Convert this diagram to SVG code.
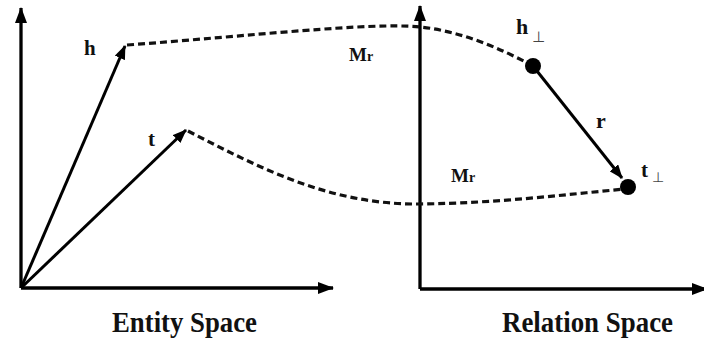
<svg xmlns="http://www.w3.org/2000/svg" width="704" height="343" viewBox="0 0 704 343">
<style>
.ax{stroke:#000;stroke-width:3.3;fill:none}
.vec{stroke:#000;stroke-width:3;fill:none}
.dash{stroke:#111;stroke-width:3.2;fill:none;stroke-dasharray:7 4}
.lbl{font-family:"Liberation Serif","Times New Roman",serif;font-weight:bold;fill:#111}
.perp{font-family:"DejaVu Sans",sans-serif;font-weight:normal;fill:#444}
</style>
<defs>
<marker id="ah" markerUnits="userSpaceOnUse" viewBox="0 0 16 12" refX="15" refY="6" markerWidth="16" markerHeight="12" orient="auto">
<path d="M0,0 L16,6 L0,12 Z" fill="#000"/>
</marker>
<marker id="vh" markerUnits="userSpaceOnUse" viewBox="0 0 14 11" refX="13" refY="5.5" markerWidth="14" markerHeight="11" orient="auto">
<path d="M0,0 L14,5.5 L0,11 Z" fill="#000"/>
</marker>
</defs>
<rect width="704" height="343" fill="#fff"/>
<g id="connectors">
<path class="ax" d="M21,288 L21,8" marker-end="url(#ah)"/>
<path class="ax" d="M21,288 L333,288" marker-end="url(#ah)"/>
<path class="ax" d="M420,289 L420,6" marker-end="url(#ah)"/>
<path class="ax" d="M420,289 L707,289" marker-end="url(#ah)"/>
<path class="vec" d="M21,288 L125,46" marker-end="url(#vh)"/>
<path class="vec" d="M21,288 L186,130" marker-end="url(#vh)"/>
<path class="dash" d="M127,45 C250,36 370,22 420,27 C460,31 500,48 533,66"/>
<path class="dash" d="M188,131 C260,168 330,205 420,204 C500,203 560,195 625,189"/>
<path class="vec" d="M533,66 L622,178" marker-end="url(#vh)"/>
</g>
<g id="h-node"><text class="lbl" x="84" y="55" font-size="21">h</text></g>
<g id="t-node"><text class="lbl" x="148" y="146" font-size="21">t</text></g>
<g id="hperp-node">
<circle cx="533" cy="66" r="8" fill="#000"/>
<text class="lbl" x="516" y="34" font-size="22">h</text>
<text class="perp" x="532" y="42" font-size="15">⊥</text>
</g>
<g id="tperp-node">
<circle cx="628" cy="187" r="8" fill="#000"/>
<text class="lbl" x="641" y="177" font-size="21">t</text>
<text class="perp" x="652" y="182" font-size="14">⊥</text>
</g>
<g id="labels">
<text class="lbl" x="596" y="128" font-size="22">r</text>
<text class="lbl" x="349" y="61" font-size="19">M<tspan font-size="14">r</tspan></text>
<text class="lbl" x="451" y="182" font-size="19">M<tspan font-size="14">r</tspan></text>
<text class="lbl" x="112" y="332" font-size="29" textLength="145" lengthAdjust="spacingAndGlyphs">Entity Space</text>
<text class="lbl" x="502" y="332" font-size="29" textLength="171" lengthAdjust="spacingAndGlyphs">Relation Space</text>
</g>
</svg>
